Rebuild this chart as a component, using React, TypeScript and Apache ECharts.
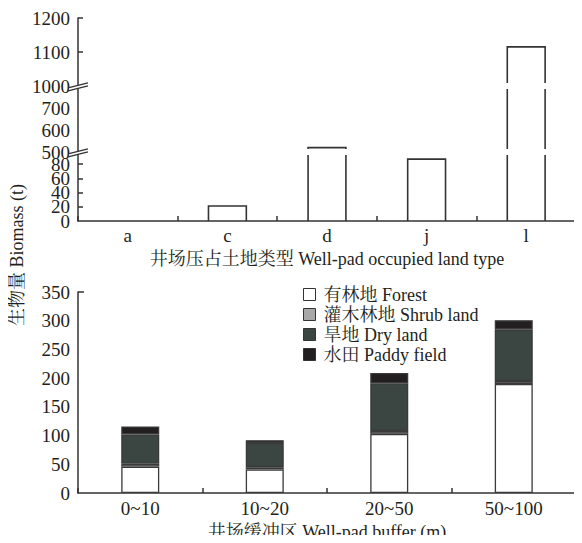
import React, { useEffect, useRef } from 'react';
import * as echarts from 'echarts';

// ---- Top panel: well-pad occupied land type ----
const landTypes = ['a', 'c', 'd', 'j', 'l'];
const landBiomass = [0, 21, 520, 87, 1115];

// broken y-axis segments, bottom to top
const segMins = [0, 500, 1000];
const segMaxs = [97, 800, 1200];
const segIntervals = [20, 100, 100];

// ---- Bottom panel: well-pad buffer ----
const bufferZones = ['0~10', '10~20', '20~50', '50~100'];
const forest = [46, 41, 103, 190];
const shrub = [5, 4, 5, 5];
const dryLand = [51, 42, 83, 90];
const paddy = [14, 5, 18, 16];
const seriesNames = ['有林地 Forest', '灌木林地 Shrub land', '旱地 Dry land', '水田 Paddy field'];

// titles
const yTitle = '生物量 Biomass (t)';
const topXTitle = '井场压占土地类型 Well-pad occupied land type';
const bottomXTitle = '井场缓冲区 Well-pad buffer (m)';

const FONT = "'Liberation Serif', 'Noto Serif CJK SC', 'Noto Sans CJK SC', serif";
const INK = '#231f20';
const LINE = '#333333';

export default function App() {
  const ref = useRef<HTMLDivElement>(null);
  useEffect(() => {
    if (!ref.current) return;
    const chart = echarts.init(ref.current, null, { renderer: 'svg' });

    const L = 78;
    const R = 6;
    const gridBase = { left: L, right: R, containLabel: false, outerBoundsMode: 'none' };
    const segGrids = [
      { ...gridBase, top: 152, height: 69 },
      { ...gridBase, top: 86, height: 66 },
      { ...gridBase, top: 18, height: 68 },
    ];
    const GAP = 3;

    const segSeries = segMins.map((mn, s) => ({
      type: 'custom',
      xAxisIndex: s,
      yAxisIndex: s,
      silent: true,
      encode: { x: 0, y: 1 },
      data: landBiomass.map((v, i) => [i, v]),
      renderItem: (params: any, api: any) => {
        const idx = api.value(0);
        const v = api.value(1);
        if (v <= mn) return null;
        const mx = segMaxs[s];
        const clipped = v > mx;
        const top = Math.min(v, mx);
        const p0 = api.coord([idx, mn]);
        const p1 = api.coord([idx, top]);
        const w = api.size([1, 0])[0] * 0.38;
        const xl = p0[0] - w / 2;
        const xr = p0[0] + w / 2;
        const yb = p0[1] - (s > 0 ? GAP : 0);
        const yt = clipped ? p1[1] + GAP : p1[1];
        const style = { stroke: LINE, lineWidth: 1.6, fill: 'none' };
        if (clipped) {
          return {
            type: 'group',
            children: [
              { type: 'line', shape: { x1: xl, y1: yb, x2: xl, y2: yt }, style },
              { type: 'line', shape: { x1: xr, y1: yb, x2: xr, y2: yt }, style },
            ],
          };
        }
        return {
          type: 'polyline',
          shape: { points: [[xl, yb], [xl, yt], [xr, yt], [xr, yb]] },
          style,
        };
      },
    }));

    const axisLine = { show: true, lineStyle: { color: LINE, width: 1.5 } };
    const labelStyle = { fontFamily: FONT, fontSize: 19, color: INK };
    const tick = (show: boolean) => ({
      show,
      inside: true,
      length: 5,
      lineStyle: { color: LINE, width: 1.5 },
    });
    const plain = (v: number) => String(v);

    const breakMarks = [86, 152].flatMap((y) => [
      {
        type: 'polygon',
        z: 100,
        shape: { points: [[69, y + 1.5], [87, y - 3], [87, y], [69, y + 4.5]] },
        style: { fill: '#fff', stroke: 'none' },
      },
      {
        type: 'line',
        z: 101,
        shape: { x1: 68, y1: y + 1.8, x2: 88, y2: y - 3.2 },
        style: { stroke: LINE, lineWidth: 1.3 },
      },
      {
        type: 'line',
        z: 101,
        shape: { x1: 68, y1: y + 4.8, x2: 88, y2: y - 0.2 },
        style: { stroke: LINE, lineWidth: 1.3 },
      },
    ]);

    const title = (text: string, x: number, y: number, rotation = 0) => ({
      type: 'text',
      x,
      y,
      z: 100,
      silent: true,
      rotation,
      style: {
        text,
        fontFamily: FONT,
        fontSize: 18,
        fill: INK,
        align: 'center',
        verticalAlign: 'middle',
      },
    });

    const option: any = {
      animation: false,
      backgroundColor: '#fff',
      textStyle: { fontFamily: FONT, color: INK },
      grid: [...segGrids, { ...gridBase, top: 292, height: 201 }],
      xAxis: [
        {
          type: 'category',
          gridIndex: 0,
          data: landTypes,
          axisLine,
          axisTick: tick(true),
          axisLabel: { ...labelStyle, margin: 5 },
        },
        { type: 'category', gridIndex: 1, data: landTypes, show: false },
        { type: 'category', gridIndex: 2, data: landTypes, show: false },
        {
          type: 'category',
          gridIndex: 3,
          data: bufferZones,
          axisLine,
          axisTick: tick(true),
          axisLabel: { ...labelStyle, margin: 6 },
        },
      ],
      yAxis: [
        ...segMins.map((mn, s) => ({
          type: 'value',
          gridIndex: s,
          position: 'left',
          min: mn,
          max: segMaxs[s],
          interval: segIntervals[s],
          axisLine,
          axisTick: tick(s !== 1),
          splitLine: { show: false },
          axisLabel: {
            ...labelStyle,
            margin: 8,
            showMaxLabel: s === 2,
            showMinLabel: s !== 0,
            formatter: plain,
          },
        })),
        {
          type: 'value',
          gridIndex: 3,
          min: 0,
          max: 350,
          interval: 50,
          axisLine,
          axisTick: tick(false),
          splitLine: { show: false },
          axisLabel: { ...labelStyle, margin: 8, formatter: plain },
        },
        {
          // carries only the "0" label of the lowest broken segment
          type: 'value',
          gridIndex: 0,
          position: 'left',
          offset: 0,
          min: segMins[0],
          max: segMaxs[0],
          interval: 100,
          axisLine: { show: false },
          axisTick: { show: false },
          splitLine: { show: false },
          axisLabel: { ...labelStyle, margin: 8, showMinLabel: true, showMaxLabel: false, formatter: plain },
        },
      ],
      legend: {
        orient: 'vertical',
        left: 303,
        top: 285,
        padding: 0,
        itemWidth: 12,
        itemHeight: 12,
        itemGap: 1,
        icon: 'rect',
        data: seriesNames,
        textStyle: { fontFamily: FONT, fontSize: 18, lineHeight: 19, color: INK, padding: [0, 0, 0, 3] },
        itemStyle: { borderColor: LINE, borderWidth: 1 },
      },
      graphic: [
        title(yTitle, 17, 255, Math.PI / 2),
        title(topXTitle, 327, 259),
        title(bottomXTitle, 327, 532),
        {
          type: 'line',
          z: 101,
          shape: { x1: 78, y1: 292, x2: 84, y2: 292 },
          style: { stroke: LINE, lineWidth: 1.5 },
        },
        ...breakMarks,
      ],
      series: [
        ...segSeries,
        ...[forest, shrub, dryLand, paddy].map((d, k) => ({
          name: seriesNames[k],
          type: 'bar',
          stack: 'buffer',
          xAxisIndex: 3,
          yAxisIndex: 3,
          barWidth: 38,
          data: d,
          itemStyle: {
            color: ['#ffffff', '#a8a8a8', '#3b4643', '#231f20'][k],
            borderColor: '#3a3a3a',
            borderWidth: 1.3,
          },
        })),
      ],
    };
    chart.setOption(option);
    return () => chart.dispose();
  }, []);
  return <div ref={ref} style={{ width: 582, height: 543, margin: -8 }} />;
}
